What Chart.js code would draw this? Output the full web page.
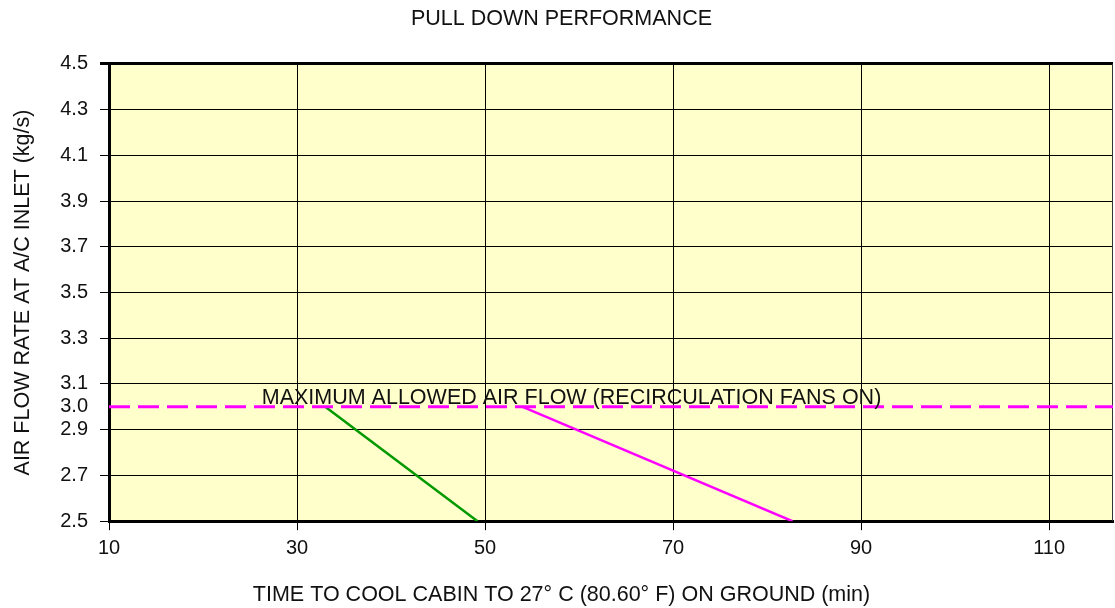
<!DOCTYPE html>
<html>
<head>
<meta charset="utf-8">
<script src="https://cdn.jsdelivr.net/npm/chart.js@4/dist/chart.umd.min.js"></script>
<style>
  html, body { margin: 0; padding: 0; background: #fff; }
  #wrap { width: 1115px; height: 608px; }
</style>
</head>
<body>
<div id="wrap"><canvas id="pullDown"></canvas></div>
<script>
// axis ticks
const xTicks = [10, 30, 50, 70, 90, 110];
const yTicks = [2.5, 2.7, 2.9, 3.0, 3.1, 3.3, 3.5, 3.7, 3.9, 4.1, 4.3, 4.5];
const xMin = 10;
const xMax = 116.8;

// max allowed air flow with recirculation fans on
const maxFlow = 3.0;
const maxFlowText = 'MAXIMUM ALLOWED AIR FLOW (RECIRCULATION FANS ON)';
const maxFlowTextAt = 59.2;

// pull down curves (time in min, flow in kg/s)
const greenTime = [33, 49.2];
const greenFlow = [3.0, 2.5];
const pinkTime = [54, 82.7];
const pinkFlow = [3.0, 2.5];

const FONT = '"Liberation Sans", Arial, Helvetica, sans-serif';
const INK = '#111';

function toPoints(xs, ys) {
  return xs.map((x, i) => ({ x: x, y: ys[i] }));
}

const plotFrame = {
  id: 'plotFrame',
  beforeDraw(chart) {
    const { ctx, chartArea: a } = chart;
    ctx.save();
    ctx.fillStyle = '#ffffcc';
    ctx.fillRect(a.left, a.top, a.right - a.left, a.bottom - a.top);
    ctx.restore();
  },
  beforeDatasetsDraw(chart) {
    const { ctx, chartArea: a } = chart;
    ctx.save();
    ctx.strokeStyle = '#333';
    ctx.lineWidth = 1;
    ctx.beginPath();
    ctx.moveTo(a.right - 0.5, a.top);
    ctx.lineTo(a.right - 0.5, a.bottom);
    ctx.stroke();
    ctx.restore();
  },
  afterDatasetsDraw(chart) {
    const { ctx, scales } = chart;
    ctx.save();
    ctx.font = '21.5px ' + FONT;
    ctx.fillStyle = INK;
    ctx.textAlign = 'center';
    ctx.textBaseline = 'alphabetic';
    ctx.fillText(maxFlowText, scales.x.getPixelForValue(maxFlowTextAt), scales.y.getPixelForValue(maxFlow) - 3);
    ctx.restore();
  }
};

const ctx = document.getElementById('pullDown').getContext('2d');
new Chart(ctx, {
  type: 'scatter',
  data: {
    datasets: [
      {
        data: toPoints([xMin, xMax], [maxFlow, maxFlow]),
        showLine: true,
        borderColor: '#ff00ff',
        borderWidth: 3,
        borderDash: [21, 8],
        pointRadius: 0
      },
      {
        data: toPoints(greenTime, greenFlow),
        showLine: true,
        borderColor: '#009900',
        borderWidth: 2.5,
        pointRadius: 0
      },
      {
        data: toPoints(pinkTime, pinkFlow),
        showLine: true,
        borderColor: '#ff00ff',
        borderWidth: 2.5,
        pointRadius: 0
      }
    ]
  },
  options: {
    responsive: true,
    maintainAspectRatio: false,
    animation: false,
    layout: { padding: { left: 10, right: 2, top: 0, bottom: 0 } },
    plugins: {
      legend: { display: false },
      tooltip: { enabled: false },
      title: {
        display: true,
        text: 'PULL DOWN PERFORMANCE',
        color: INK,
        font: { family: FONT, size: 21.5, weight: 'normal' },
        padding: { top: 6, bottom: 32 }
      },
      subtitle: {
        display: true,
        position: 'bottom',
        text: 'TIME TO COOL CABIN TO 27° C (80.60° F) ON GROUND (min)',
        color: INK,
        font: { family: FONT, size: 21.5, weight: 'normal' },
        padding: { top: 9, bottom: 0 }
      }
    },
    scales: {
      x: {
        type: 'linear',
        min: xMin,
        max: xMax,
        afterBuildTicks: s => { s.ticks = xTicks.map(v => ({ value: v })); },
        afterFit: s => { s.height = 52; },
        grid: { color: '#000', lineWidth: 1, tickLength: 9, tickColor: '#000' },
        border: { color: '#000', width: 3 },
        ticks: {
          color: INK,
          font: { family: FONT, size: 20 },
          padding: 6,
          maxRotation: 0,
          callback: v => String(v)
        }
      },
      y: {
        type: 'linear',
        min: 2.5,
        max: 4.5,
        afterBuildTicks: s => { s.ticks = yTicks.map(v => ({ value: v })); },
        afterFit: s => { s.width = 99; },
        grid: {
          color: c => (c.tick && c.tick.value === maxFlow ? 'rgba(0,0,0,0)' : '#000'),
          tickColor: c => (c.tick && c.tick.value === maxFlow ? 'rgba(0,0,0,0)' : '#000'),
          lineWidth: c => (c.tick && c.tick.value === 4.5 ? 3 : 1),
          tickLength: 9
        },
        border: { color: '#000', width: 3 },
        title: {
          display: true,
          text: 'AIR FLOW RATE AT A/C INLET (kg/s)',
          color: INK,
          font: { family: FONT, size: 21.5 },
          padding: { top: 0, bottom: 0 }
        },
        ticks: {
          color: INK,
          font: { family: FONT, size: 20 },
          padding: 12,
          callback: v => Number(v).toFixed(1)
        }
      }
    }
  },
  plugins: [plotFrame]
});
</script>
</body>
</html>
